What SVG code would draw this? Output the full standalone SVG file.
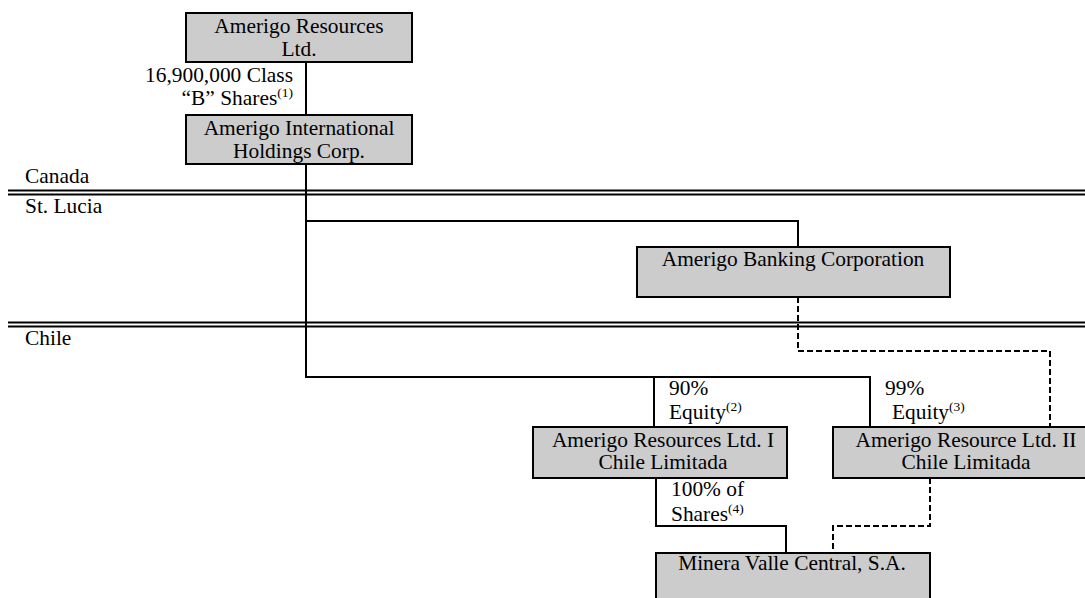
<svg xmlns="http://www.w3.org/2000/svg" width="1085" height="598" viewBox="0 0 1085 598" font-family="'Liberation Serif','Times New Roman',serif">
<style>
.t{font-family:"Liberation Serif","Times New Roman",serif;font-size:21.4px;fill:#000}
.c{text-anchor:middle}
.e{text-anchor:end}
.sup{font-size:13.5px}
.box{fill:#cccccc;stroke:#000;stroke-width:2}
.ln{fill:none;stroke:#000;stroke-width:2}
.dash{fill:none;stroke:#000;stroke-width:2;stroke-dasharray:6 3}
.sep{stroke:#000;stroke-width:2}
</style>
<rect width="1085" height="598" fill="#fff"/>
<g id="regions">
<line class="sep" x1="8" y1="190.5" x2="1085" y2="190.5"/>
<line class="sep" x1="8" y1="194.5" x2="1085" y2="194.5"/>
<line class="sep" x1="8" y1="322.5" x2="1085" y2="322.5"/>
<line class="sep" x1="8" y1="326.5" x2="1085" y2="326.5"/>
<text class="t" x="25" y="183">Canada</text>
<text class="t" x="25" y="213">St. Lucia</text>
<text class="t" x="25" y="345">Chile</text>
</g>
<g id="connectors">
<polyline class="ln" points="306,62 306,115"/>
<polyline class="ln" points="306,164 306,377 870,377 870,427"/>
<polyline class="ln" points="306,221 798,221 798,247"/>
<polyline class="ln" points="654,377 654,427"/>
<polyline class="ln" points="656,478 656,526 786,526 786,553"/>
<polyline class="dash" points="798,297 798,351 1050,351 1050,427"/>
<polyline class="dash" points="930,478 930,526 833,526 833,553"/>
<text class="t e" y="82"><tspan x="293">16,900,000 Class</tspan><tspan x="293" y="105">“B” Shares<tspan class="sup" dy="-8">(1)</tspan></tspan></text>
<text class="t" y="395"><tspan x="669">90%</tspan><tspan x="669" y="419">Equity<tspan class="sup" dy="-8">(2)</tspan></tspan></text>
<text class="t" y="395"><tspan x="885">99%</tspan><tspan x="892" y="419">Equity<tspan class="sup" dy="-8">(3)</tspan></tspan></text>
<text class="t" y="496"><tspan x="671">100% of</tspan><tspan x="671" y="521">Shares<tspan class="sup" dy="-8">(4)</tspan></tspan></text>
</g>
<g id="amerigo-resources">
<rect class="box" x="186" y="13" width="226" height="49"/>
<text class="t c" y="33"><tspan x="299">Amerigo Resources</tspan><tspan x="299" y="56">Ltd.</tspan></text>
</g>
<g id="amerigo-international">
<rect class="box" x="186" y="115" width="226" height="49"/>
<text class="t c" y="135"><tspan x="299">Amerigo International</tspan><tspan x="299" y="158">Holdings Corp.</tspan></text>
</g>
<g id="amerigo-banking">
<rect class="box" x="637" y="247" width="313" height="50"/>
<text class="t c" x="793" y="266">Amerigo Banking Corporation</text>
</g>
<g id="amerigo-chile-1">
<rect class="box" x="533" y="427" width="254" height="51"/>
<text class="t c" y="447"><tspan x="663">Amerigo Resources Ltd. I</tspan><tspan x="663" y="469">Chile Limitada</tspan></text>
</g>
<g id="amerigo-chile-2">
<rect class="box" x="833" y="427" width="266" height="51"/>
<text class="t c" y="447"><tspan x="966">Amerigo Resource Ltd. II</tspan><tspan x="966" y="469">Chile Limitada</tspan></text>
</g>
<g id="minera">
<rect class="box" x="656" y="553" width="274" height="50"/>
<text class="t c" x="792" y="570">Minera Valle Central, S.A.</text>
</g>
</svg>
